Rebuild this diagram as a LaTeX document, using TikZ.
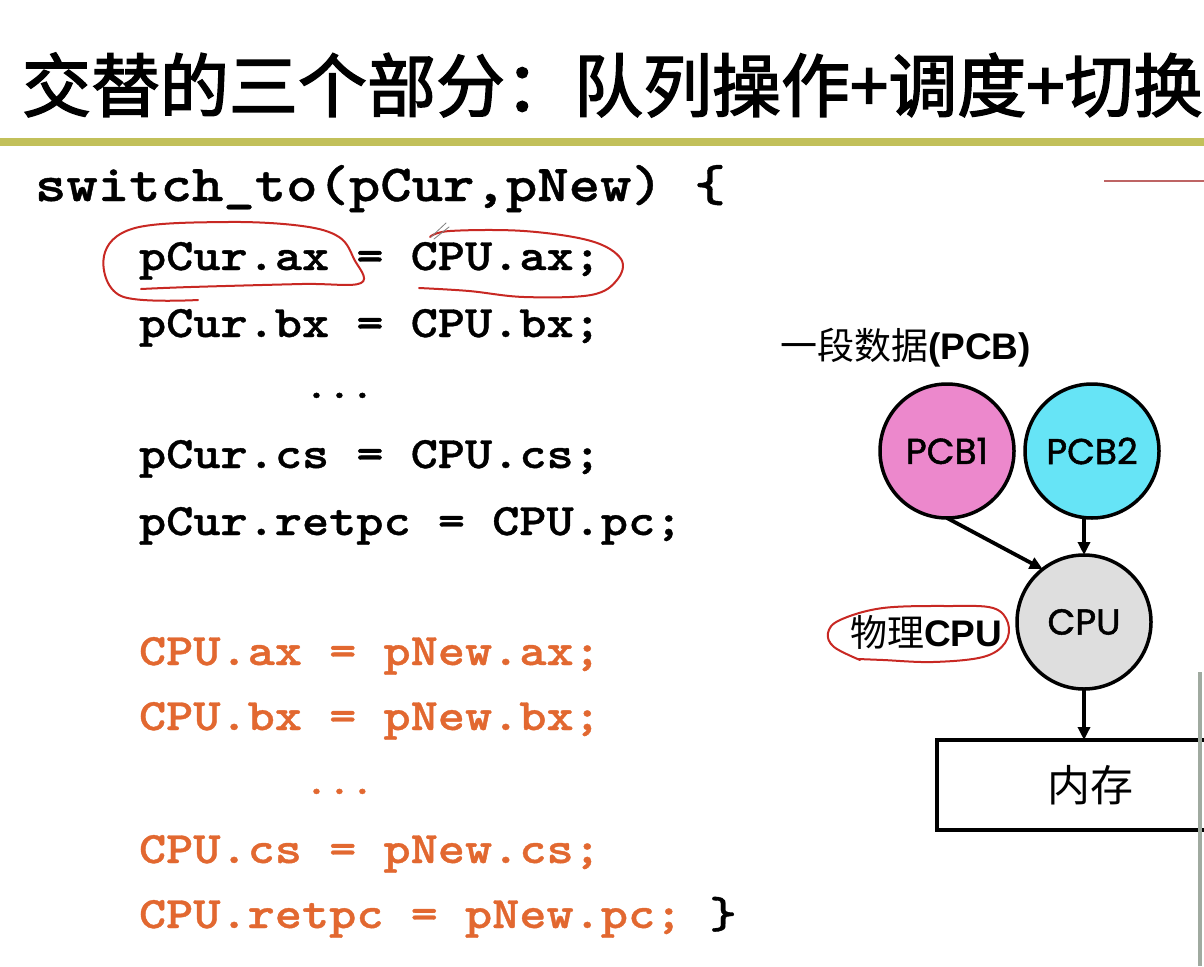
\documentclass[tikz,border=0pt]{standalone}
\usepackage{fontspec}
\usetikzlibrary{arrows.meta}
\setmainfont{Liberation Sans}
\newfontfamily\cjk{Noto Sans CJK SC}
\newfontfamily\cjktitle{Noto Sans CJK SC}[FakeBold=2.2]
\newfontfamily\cour{lmmonolt10-bold}[Extension=.otf, FakeStretch=1.15, FakeBold=0.8]
\newfontfamily\gothic{Poppins}[FakeBold=1.4]
\definecolor{barcol}{RGB}{194,192,90}
\definecolor{codeorange}{RGB}{226,104,48}
\definecolor{pinkfill}{RGB}{236,136,204}
\definecolor{cyanfill}{RGB}{102,228,246}
\definecolor{cpufill}{RGB}{222,222,222}
\definecolor{penred}{RGB}{200,40,35}
\definecolor{linered}{RGB}{190,100,100}
\definecolor{edgegray}{RGB}{160,170,160}
\begin{document}
\begin{tikzpicture}[x=1pt,y=-1pt,
  every node/.style={inner sep=0pt, outer sep=0pt},
  codeline/.style={anchor=base west, font=\fontsize{45}{45}\selectfont\cour},
  codedots/.style={anchor=base west, font=\fontsize{38}{38}\selectfont\cour},
  pcbcirc/.style={circle, draw, line width=3.5pt, minimum size=134pt, font=\fontsize{36}{36}\selectfont\gothic},
  arr/.style={-{Triangle[length=13pt,width=12pt]}, line width=3.8pt},
  pen/.style={penred, line width=2pt, line cap=round, line join=round},
  lbl/.style={anchor=west, font=\fontsize{37}{37}\selectfont}
]
\useasboundingbox (0,0) rectangle (1204,966);
\fill[white] (0,0) rectangle (1204,966);

% title and rules
\node[anchor=west, font=\fontsize{69}{69}\selectfont\cjktitle] (title) at (22,85) {交替的三个部分：队列操作+调度+切换};
\draw[barcol, line width=8pt] (0,142) -- (1204,142);
\draw[linered, line width=2.5pt] (1104,181) -- (1204,181);

% code
\node[anchor=base west, font=\fontsize{52}{52}\selectfont\cour] (head) at (35,201) {switch\_to(pCur,pNew) \{};
\node[codeline] (l1) at (139,270) {pCur.ax = CPU.ax;};
\node[codeline] (l2) at (139,337) {pCur.bx = CPU.bx;};
\node[codedots] (d1) at (305,398) {...};
\node[codeline] (l3) at (139,468) {pCur.cs = CPU.cs;};
\node[codeline] (l4) at (139,535) {pCur.retpc = CPU.pc;};
\node[codeline, text=codeorange] (o1) at (139,665) {CPU.ax = pNew.ax;};
\node[codeline, text=codeorange] (o2) at (139,730) {CPU.bx = pNew.bx;};
\node[codedots, text=codeorange] (d2) at (305,794) {...};
\node[codeline, text=codeorange] (o3) at (139,863) {CPU.cs = pNew.cs;};
\node[codeline, text=codeorange] (o4) at (139,928) {CPU.retpc = pNew.pc; {\color{black}\}}};

% diagram
\node[lbl] (pcblabel) at (780,348) {{\cjk 一段数据}\textbf{(PCB)}};
\node[pcbcirc, fill=pinkfill] (pcb1) at (947,451) {PCB1};
\node[pcbcirc, fill=cyanfill] (pcb2) at (1092,451) {PCB2};
\node[pcbcirc, fill=cpufill] (cpu) at (1084,622) {CPU};
\node[lbl] (phys) at (850,632) {{\cjk 物理}\textbf{CPU}};
\node[draw, line width=3.5pt, minimum width=306pt, minimum height=90pt, font=\fontsize{43}{43}\selectfont\cjk] (mem) at (1090,785) {内存};

\draw[arr] (pcb1.south) -- (cpu.128);
\draw[arr] (pcb2.south -| cpu.north) -- (cpu.north);
\draw[arr] (cpu.south) -- (cpu.south |- mem.north);

% right edge of next panel
\draw[edgegray, line width=4pt] (1200,672) -- (1200,966);

% red pen annotations
\draw[pen] plot[smooth, tension=0.6] coordinates {(198,300) (121,296) (104,256) (135,228) (228,222) (302,226) (339,237) (354,259) (361,283) (302,284) (191,287) (141,289)};
\draw[pen] plot[smooth, tension=0.6] coordinates {(430,237) (450,231) (524,231) (591,241) (621,259) (617,280) (591,295) (524,297) (469,291) (419,288)};
\draw[gray, line width=0.8pt, line cap=round] (431,237) -- (446,223) (434,239) -- (449,227);
\draw[pen] plot[smooth, tension=0.6] coordinates {(860,660) (834,647) (828,633) (840,620) (883,608) (950,606) (993,608) (1008,623) (1005,643) (983,657) (933,662) (883,660) (858,659)};
\end{tikzpicture}
\end{document}
